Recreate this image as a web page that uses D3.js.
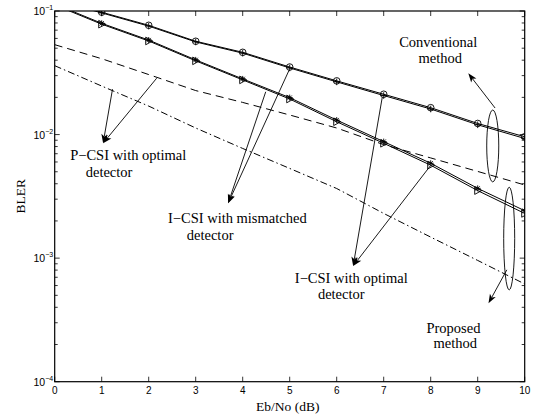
<!DOCTYPE html>
<html>
<head>
<meta charset="utf-8">
<script src="https://cdn.jsdelivr.net/npm/d3@7"></script>
<style>
  body { margin:0; background:#fff; }
  text { fill:#000; }
</style>
</head>
<body>
<div id="chart"></div>
<script>
// Eb/No in dB
var ebno = [0,1,2,3,4,5,6,7,8,9,10];

// conventional method, I-CSI (mismatched / optimal detector)
var convMismatched = [0.125, 0.0978, 0.0766, 0.0569, 0.0463, 0.0352, 0.0272, 0.0212, 0.0165, 0.0123, 0.0096];
var convOptimal    = [0.123, 0.0965, 0.0755, 0.0562, 0.0456, 0.0346, 0.0267, 0.0207, 0.0161, 0.0120, 0.0093];
// proposed method, I-CSI (mismatched / optimal detector)
var propMismatched = [0.114, 0.0795, 0.0582, 0.0402, 0.0282, 0.0199, 0.0131, 0.00877, 0.00586, 0.00367, 0.00242];
var propOptimal    = [0.112, 0.0782, 0.0572, 0.0395, 0.0277, 0.0194, 0.0127, 0.00850, 0.00565, 0.00352, 0.00230];
// P-CSI with optimal detector
var convPerfect = [0.0534, 0.0411, 0.0306, 0.0227, 0.0182, 0.0144, 0.0113, 0.00829, 0.00647, 0.00503, 0.00391];
var propPerfect = [0.0361, 0.0247, 0.0170, 0.0113, 0.00772, 0.00532, 0.00366, 0.00230, 0.00148, 0.000958, 0.000618];

var xTicks = [0,1,2,3,4,5,6,7,8,9,10];
var yTicks = [1e-4, 1e-3, 1e-2, 1e-1];
var yTickLabels = ["\u22124", "\u22123", "\u22122", "\u22121"];

// annotations, in data units (dB, BLER)
var labels = [
  {t:"Conventional", x:7.33, y:0.0512},
  {t:"method", x:7.74, y:0.0378},
  {t:"P\u2212CSI with optimal", x:0.33, y:0.00623},
  {t:"detector", x:0.66, y:0.00456},
  {t:"I\u2212CSI with mismatched", x:2.41, y:0.00194},
  {t:"detector", x:2.81, y:0.00140},
  {t:"I\u2212CSI with optimal", x:5.11, y:0.000627},
  {t:"detector", x:5.60, y:0.000465},
  {t:"Proposed", x:7.91, y:0.000247},
  {t:"method", x:8.06, y:0.000187}
];
var arrows = [
  {x0:9.37, y0:0.0164, x1:8.80, y1:0.0313},
  {x0:9.62, y0:0.000804, x1:9.23, y1:0.000431},
  {x0:2.17, y0:0.0286, x1:1.03, y1:0.00851},
  {x0:1.23, y0:0.0233, x1:1.03, y1:0.00851},
  {x0:4.99, y0:0.0334, x1:3.69, y1:0.00278},
  {x0:4.49, y0:0.0222, x1:3.69, y1:0.00278},
  {x0:6.97, y0:0.0201, x1:6.35, y1:0.000865},
  {x0:7.99, y0:0.00557, x1:6.35, y1:0.000865}
];
var ellipses = [
  {x:9.32, top:0.0158, bottom:0.00414, hw:0.128},
  {x:9.67, top:0.00375, bottom:0.000553, hw:0.117}
];

(function() {
    var margin = {top:11, left:54.7, right:10.3, bottom:37.3},
    width = 535 - margin.left - margin.right,
    height = 419 - margin.top - margin.bottom;

    var svg = d3.select('#chart')
        .append('svg')
        .attr('width', 535)
        .attr('height', 419)
        .append('g')
        .attr('transform', 'translate(' + margin.left + ',' + margin.top + ')');

    var x = d3.scaleLinear().domain([0,10]).range([0, width]);
    var y = d3.scaleLog().domain([1e-4, 1e-1]).range([height, 0]);

    svg.append('clipPath').attr('id','clip')
        .append('rect').attr('width', width).attr('height', height);

    // ticks (inside, on all four sides)
    var tk = svg.append('g').attr('stroke','#000').attr('stroke-width',0.8);
    xTicks.forEach(function(v) {
        tk.append('line').attr('x1',x(v)).attr('x2',x(v)).attr('y1',height).attr('y2',height-5);
        tk.append('line').attr('x1',x(v)).attr('x2',x(v)).attr('y1',0).attr('y2',5);
    });
    var minor = [];
    for (var e = -4; e < -1; e++) {
        for (var m = 2; m < 10; m++) minor.push(m * Math.pow(10, e));
    }
    minor.forEach(function(v) {
        tk.append('line').attr('x1',0).attr('x2',3).attr('y1',y(v)).attr('y2',y(v));
        tk.append('line').attr('x1',width).attr('x2',width-3).attr('y1',y(v)).attr('y2',y(v));
    });
    yTicks.forEach(function(v) {
        tk.append('line').attr('x1',0).attr('x2',5).attr('y1',y(v)).attr('y2',y(v));
        tk.append('line').attr('x1',width).attr('x2',width-5).attr('y1',y(v)).attr('y2',y(v));
    });

    // tick labels
    svg.selectAll('.xlab')
        .data(xTicks)
        .enter().append('text')
        .attr('class','xlab')
        .attr('x', function(d){ return x(d) })
        .attr('y', height + 12.5)
        .attr('text-anchor','middle')
        .style('font-family','Liberation Sans, Arial, sans-serif')
        .style('font-size','10px')
        .text(function(d){ return d });

    var yl = svg.selectAll('.ylab')
        .data(yTicks)
        .enter().append('text')
        .attr('class','ylab')
        .attr('x', -1.5)
        .attr('y', function(d){ return y(d) + 4 })
        .attr('text-anchor','end')
        .style('font-family','Liberation Sans, Arial, sans-serif')
        .style('font-size','10.5px');
    yl.append('tspan').text('10');
    yl.append('tspan')
        .attr('dy', -5)
        .style('font-size','7px')
        .text(function(d,i){ return yTickLabels[i] });

    // axis titles
    svg.append('text')
        .attr('x', width/2 - 2)
        .attr('y', height + 29.5)
        .attr('text-anchor','middle')
        .style('font-family','Liberation Serif, Times New Roman, serif')
        .style('font-size','13.5px')
        .text('Eb/No (dB)');
    svg.append('text')
        .attr('transform','translate(' + (-30) + ',' + (height/2) + ') rotate(-90)')
        .attr('text-anchor','middle')
        .style('font-family','Liberation Serif, Times New Roman, serif')
        .style('font-size','13.5px')
        .text('BLER');

    // curves
    var plot = svg.append('g').attr('clip-path','url(#clip)');
    var line = d3.line()
        .x(function(d,i){ return x(ebno[i]) })
        .y(function(d){ return y(d) });

    var series = [
        {v:convPerfect, dash:'8,5'},
        {v:propPerfect, dash:'7,3,1.5,3'},
        {v:convMismatched, dash:null},
        {v:convOptimal, dash:null},
        {v:propMismatched, dash:null},
        {v:propOptimal, dash:null}
    ];
    series.forEach(function(s) {
        plot.append('path')
            .datum(s.v)
            .attr('d', line)
            .attr('fill','none')
            .attr('stroke','#000')
            .attr('stroke-width', 1)
            .attr('stroke-dasharray', s.dash);
    });

    // markers
    var mk = plot.append('g').attr('fill','none').attr('stroke','#000').attr('stroke-width',0.9);
    convMismatched.forEach(function(v,i) {
        mk.append('circle').attr('cx', x(ebno[i])).attr('cy', y(v)).attr('r', 3.3);
    });
    convOptimal.forEach(function(v,i) {
        var cx = x(ebno[i]), cy = y(v);
        mk.append('path').attr('d', 'M'+(cx-3.3)+','+cy+'H'+(cx+3.3)+'M'+cx+','+(cy-3.3)+'V'+(cy+3.3));
    });
    propOptimal.forEach(function(v,i) {
        var cx = x(ebno[i]), cy = y(v);
        mk.append('path').attr('d', 'M'+(cx-3)+','+(cy-3.8)+'L'+(cx+4)+','+cy+'L'+(cx-3)+','+(cy+3.8)+'Z');
    });
    propMismatched.forEach(function(v,i) {
        var cx = x(ebno[i]), cy = y(v), r = 3;
        var d = '';
        for (var a = 0; a < 4; a++) {
            var ang = a * Math.PI / 4;
            d += 'M'+(cx - r*Math.cos(ang))+','+(cy - r*Math.sin(ang))+'L'+(cx + r*Math.cos(ang))+','+(cy + r*Math.sin(ang));
        }
        mk.append('path').attr('d', d);
    });

    // ellipses
    svg.selectAll('.ell')
        .data(ellipses)
        .enter().append('ellipse')
        .attr('class','ell')
        .attr('cx', function(d){ return x(d.x) })
        .attr('cy', function(d){ return (y(d.top) + y(d.bottom)) / 2 })
        .attr('rx', function(d){ return x(d.hw) - x(0) })
        .attr('ry', function(d){ return (y(d.bottom) - y(d.top)) / 2 })
        .attr('fill','none')
        .attr('stroke','#000')
        .attr('stroke-width',0.9);

    // arrows
    arrows.forEach(function(a) {
        var x0 = x(a.x0), y0 = y(a.y0), x1 = x(a.x1), y1 = y(a.y1);
        var dx = x1 - x0, dy = y1 - y0, len = Math.sqrt(dx*dx + dy*dy);
        var ux = dx/len, uy = dy/len;
        var hl = 9, hw = 3.3;
        var bx = x1 - ux*hl, by = y1 - uy*hl;
        svg.append('line')
            .attr('x1', x0).attr('y1', y0).attr('x2', bx + ux*2).attr('y2', by + uy*2)
            .attr('stroke','#000').attr('stroke-width',0.9);
        svg.append('path')
            .attr('d', 'M'+x1+','+y1+
                'L'+(bx - uy*hw)+','+(by + ux*hw)+
                'L'+(x1 - ux*hl*0.75)+','+(y1 - uy*hl*0.75)+
                'L'+(bx + uy*hw)+','+(by - ux*hw)+'Z')
            .attr('fill','#000');
    });

    // annotation text
    svg.selectAll('.ann')
        .data(labels)
        .enter().append('text')
        .attr('class','ann')
        .attr('x', function(d){ return x(d.x) })
        .attr('y', function(d){ return y(d.y) })
        .style('font-family','Liberation Serif, Times New Roman, serif')
        .style('font-size','14.5px')
        .text(function(d){ return d.t });

    // box
    svg.append('rect')
        .attr('width', width)
        .attr('height', height)
        .attr('fill','none')
        .attr('stroke','#000')
        .attr('stroke-width',1.2);
})();
</script>
</body>
</html>
